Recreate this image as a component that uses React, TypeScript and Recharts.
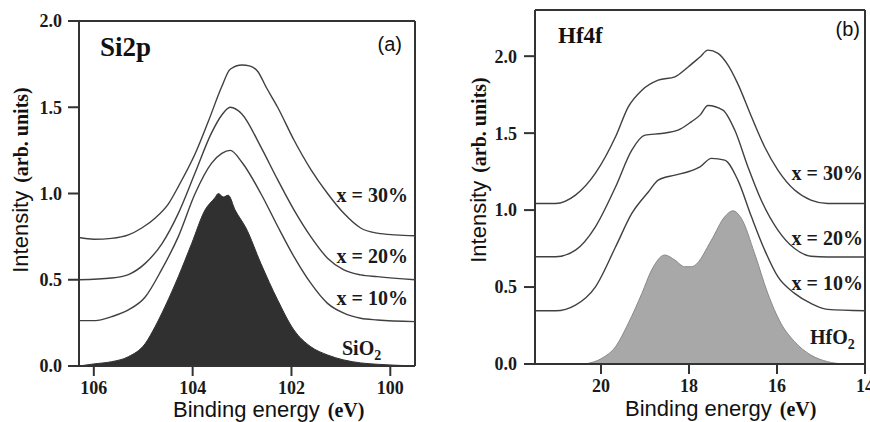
import React from 'react';
import { ComposedChart, Line, Area, XAxis, YAxis, ReferenceLine } from 'recharts';

// ---- Si2p panel (a): [binding energy eV, intensity] ----
const siX30: [number, number][] = [
  [106.3, 0.745], [106.0, 0.735], [105.64, 0.74], [105.3, 0.76], [105.03, 0.8], [104.75, 0.86],
  [104.49, 0.94], [104.29, 1.04], [103.95, 1.23], [103.68, 1.42], [103.41, 1.62], [103.24, 1.72],
  [103.0, 1.745], [102.85, 1.74], [102.69, 1.71], [102.5, 1.61], [102.28, 1.5], [101.95, 1.31],
  [101.61, 1.14], [101.27, 1.0], [100.94, 0.885], [100.6, 0.8], [100.26, 0.77], [99.9, 0.76], [99.5, 0.755],
];
const siX20: [number, number][] = [
  [106.3, 0.5], [105.64, 0.51], [105.3, 0.53], [104.96, 0.595], [104.62, 0.71], [104.29, 0.885],
  [103.95, 1.12], [103.62, 1.35], [103.41, 1.455], [103.24, 1.5], [103.0, 1.46], [102.62, 1.27],
  [102.28, 1.08], [101.95, 0.905], [101.61, 0.75], [101.27, 0.625], [100.94, 0.557], [100.6, 0.528],
  [100.26, 0.518], [99.5, 0.5],
];
const siX10: [number, number][] = [
  [106.3, 0.263], [105.97, 0.263], [105.64, 0.286], [105.3, 0.325], [104.96, 0.4], [104.63, 0.557],
  [104.29, 0.75], [103.95, 1.0], [103.62, 1.175], [103.41, 1.233], [103.24, 1.25], [103.0, 1.18],
  [102.62, 1.0], [102.28, 0.81], [101.95, 0.634], [101.61, 0.48], [101.27, 0.363], [100.94, 0.306],
  [100.6, 0.277], [100.26, 0.267], [99.5, 0.257],
];
const siO2: [number, number][] = [
  [106.3, 0.0], [106.0, 0.012], [105.64, 0.025], [105.3, 0.054], [104.96, 0.13], [104.76, 0.228],
  [104.56, 0.344], [104.29, 0.518], [104.02, 0.71], [103.75, 0.904], [103.55, 0.975], [103.48, 1.0],
  [103.38, 0.98], [103.28, 0.99], [103.14, 0.904], [102.92, 0.8], [102.62, 0.595], [102.28, 0.383],
  [101.95, 0.209], [101.61, 0.112], [101.27, 0.064], [100.94, 0.035], [100.6, 0.018], [100.26, 0.01],
  [99.93, 0.005], [99.5, 0.0],
];

// ---- Hf4f panel (b) ----
const hfX30: [number, number][] = [
  [21.5, 1.043], [21.03, 1.043], [20.58, 1.097], [20.13, 1.238], [19.67, 1.476], [19.38, 1.671],
  [19.07, 1.779], [18.7, 1.844], [18.32, 1.866], [18.02, 1.93], [17.75, 1.995], [17.57, 2.039],
  [17.34, 2.018], [17.11, 1.94], [16.89, 1.82], [16.58, 1.606], [16.28, 1.41], [15.98, 1.26],
  [15.6, 1.13], [15.23, 1.065], [14.85, 1.043], [14.0, 1.043],
];
const hfX20: [number, number][] = [
  [21.5, 0.697], [21.03, 0.697], [20.58, 0.74], [20.13, 0.89], [19.67, 1.15], [19.3, 1.39],
  [19.0, 1.487], [18.62, 1.498], [18.25, 1.519], [17.95, 1.573], [17.75, 1.617], [17.57, 1.68],
  [17.23, 1.65], [16.96, 1.52], [16.66, 1.28], [16.36, 1.065], [15.98, 0.87], [15.6, 0.75],
  [15.23, 0.7], [14.85, 0.695], [14.0, 0.695],
];
const hfX10: [number, number][] = [
  [21.5, 0.346], [21.03, 0.346], [20.58, 0.383], [20.13, 0.5], [19.67, 0.76], [19.3, 0.978],
  [18.92, 1.119], [18.7, 1.195], [18.32, 1.227], [18.02, 1.249], [17.75, 1.281], [17.49, 1.336],
  [17.19, 1.325], [16.89, 1.195], [16.58, 0.956], [16.28, 0.74], [15.98, 0.567], [15.6, 0.459],
  [15.23, 0.394], [14.85, 0.355], [14.0, 0.346],
];
const hfO2: [number, number][] = [
  [20.36, 0.0], [19.98, 0.037], [19.67, 0.112], [19.38, 0.264], [19.07, 0.459], [18.85, 0.61],
  [18.55, 0.708], [18.32, 0.675], [18.1, 0.632], [17.94, 0.632], [17.87, 0.64], [17.49, 0.805],
  [17.19, 0.956], [17.0, 0.995], [16.81, 0.946], [16.51, 0.719], [16.21, 0.459], [15.91, 0.264],
  [15.6, 0.145], [15.23, 0.058], [14.85, 0.015], [14.48, 0.0],
];

const siXTicks = [100, 102, 104, 106];
const hfXTicks = [14, 16, 18, 20];
const yTicks = [0, 0.5, 1.0, 1.5, 2.0];

type Row = { x: number; [k: string]: number | undefined };
function buildRows(series: Record<string, [number, number][]>): Row[] {
  const rows: Row[] = [];
  Object.keys(series).forEach((k) => {
    series[k].forEach(([x, v]) => rows.push({ x, [k]: v }));
  });
  rows.sort((a, b) => a.x - b.x);
  return rows;
}

const siRows = buildRows({ s30: siX30, s20: siX20, s10: siX10, base: siO2 });
const hfRows = buildRows({ s30: hfX30, s20: hfX20, s10: hfX10, base: hfO2 });

const AX = '#333';
const LINE = '#404040';
const SERIF = "'Liberation Serif', 'Times New Roman', serif";
const SANS = "'Liberation Sans', Arial, sans-serif";
const tickStyle = { fill: '#1a1a1a', fontSize: 18, fontWeight: 700, fontFamily: SERIF };

function Panel(props: {
  rows: Row[];
  left: number;
  margin: { top: number; right: number; bottom: number; left: number };
  xDomain: [number, number];
  xTicks: number[];
  yDomain: [number, number];
  fill: string;
  fillStroke: string;
  yTickMargin: number;
}) {
  const { rows, left, margin, xDomain, xTicks, yDomain, fill, fillStroke, yTickMargin } = props;
  return (
    <div style={{ position: 'absolute', left, top: 0 }}>
      <ComposedChart width={435} height={422} data={rows} margin={margin}>
        <XAxis
          dataKey="x"
          type="number"
          domain={xDomain}
          reversed
          ticks={xTicks}
          allowDataOverflow
          height={30}
          tickSize={10}
          tickMargin={5}
          axisLine={{ stroke: AX, strokeWidth: 2 }}
          tickLine={{ stroke: AX, strokeWidth: 2 }}
          tick={tickStyle}
          interval={0}
        />
        <YAxis
          type="number"
          domain={yDomain}
          ticks={yTicks}
          allowDataOverflow
          width={60}
          tickSize={11}
          tickMargin={yTickMargin}
          tickFormatter={(v: number) => v.toFixed(1)}
          axisLine={{ stroke: AX, strokeWidth: 2 }}
          tickLine={{ stroke: AX, strokeWidth: 2 }}
          tick={tickStyle}
          interval={0}
        />
        <ReferenceLine y={yDomain[1]} stroke={AX} strokeWidth={2} />
        <ReferenceLine x={xDomain[0]} stroke={AX} strokeWidth={2} />
        <Area
          dataKey="base"
          type="monotone"
          fill={fill}
          fillOpacity={1}
          stroke={fillStroke}
          strokeWidth={1}
          connectNulls
          isAnimationActive={false}
          dot={false}
          activeDot={false}
        />
        {['s10', 's20', 's30'].map((k) => (
          <Line
            key={k}
            dataKey={k}
            type="monotone"
            stroke={LINE}
            strokeWidth={1.4}
            dot={false}
            activeDot={false}
            connectNulls
            isAnimationActive={false}
          />
        ))}
      </ComposedChart>
    </div>
  );
}

function Label(props: { x: number; y: number; text: string; sub?: string; anchor?: 'start' | 'end' }) {
  return (
    <text x={props.x} y={props.y} textAnchor={props.anchor || 'end'} fontFamily={SERIF} fontWeight={700} fontSize={20} fill="#1a1a1a">
      {props.text}
      {props.sub ? (
        <tspan fontSize={14} dy={5}>
          {props.sub}
        </tspan>
      ) : null}
    </text>
  );
}

function AxisTitleX(props: { x: number; y: number }) {
  return (
    <text x={props.x} y={props.y} fill="#111">
      <tspan fontFamily={SANS} fontSize={22}>Binding energy</tspan>
      <tspan fontFamily={SERIF} fontWeight={700} fontSize={20} dx={8}>(eV)</tspan>
    </text>
  );
}

function AxisTitleY(props: { x: number; y: number }) {
  return (
    <text transform={`translate(${props.x},${props.y}) rotate(-90)`} textAnchor="middle" fill="#111">
      <tspan fontFamily={SANS} fontSize={22}>Intensity</tspan>
      <tspan fontFamily={SERIF} fontWeight={700} fontSize={20} dx={8}>(arb. units)</tspan>
    </text>
  );
}

export default function App() {
  return (
    <div style={{ position: 'absolute', left: 0, top: 0, width: 870, height: 422, background: '#fff', overflow: 'hidden' }}>
      <Panel
        rows={siRows}
        left={0}
        margin={{ top: 21, right: 20, bottom: 26, left: 19 }}
        xDomain={[99.5, 106.3]}
        xTicks={siXTicks}
        yDomain={[0, 2]}
        fill="#303030"
        fillStroke="#303030"
        yTickMargin={6}
      />
      <Panel
        rows={hfRows}
        left={435}
        margin={{ top: 10, right: 5, bottom: 28, left: 40 }}
        xDomain={[14, 21.5]}
        xTicks={hfXTicks}
        yDomain={[0, 2.3]}
        fill="#a8a8a8"
        fillStroke="#8a8a8a"
        yTickMargin={7}
      />
      <svg width={870} height={422} style={{ position: 'absolute', left: 0, top: 0, pointerEvents: 'none' }}>
        <text x={100} y={56} fontFamily={SERIF} fontWeight={700} fontSize={27} fill="#111">Si2p</text>
        <text x={402} y={51} textAnchor="end" fontFamily={SANS} fontSize={20} fill="#111">(a)</text>
        <Label x={408} y={202} text="x = 30%" />
        <Label x={408} y={263} text="x = 20%" />
        <Label x={408} y={305} text="x = 10%" />
        <Label x={342} y={355} text="SiO" sub="2" anchor="start" />
        <AxisTitleX x={173} y={417} />
        <AxisTitleY x={28} y={180} />

        <text x={558} y={43} fontFamily={SERIF} fontWeight={700} fontSize={23} fill="#111">Hf4f</text>
        <text x={860} y={36} textAnchor="end" fontFamily={SANS} fontSize={20} fill="#111">(b)</text>
        <Label x={863} y={180} text="x = 30%" />
        <Label x={863} y={245} text="x = 20%" />
        <Label x={863} y={290} text="x = 10%" />
        <Label x={810} y={344} text="HfO" sub="2" anchor="start" />
        <AxisTitleX x={625} y={416} />
        <AxisTitleY x={486} y={170} />
      </svg>
    </div>
  );
}
